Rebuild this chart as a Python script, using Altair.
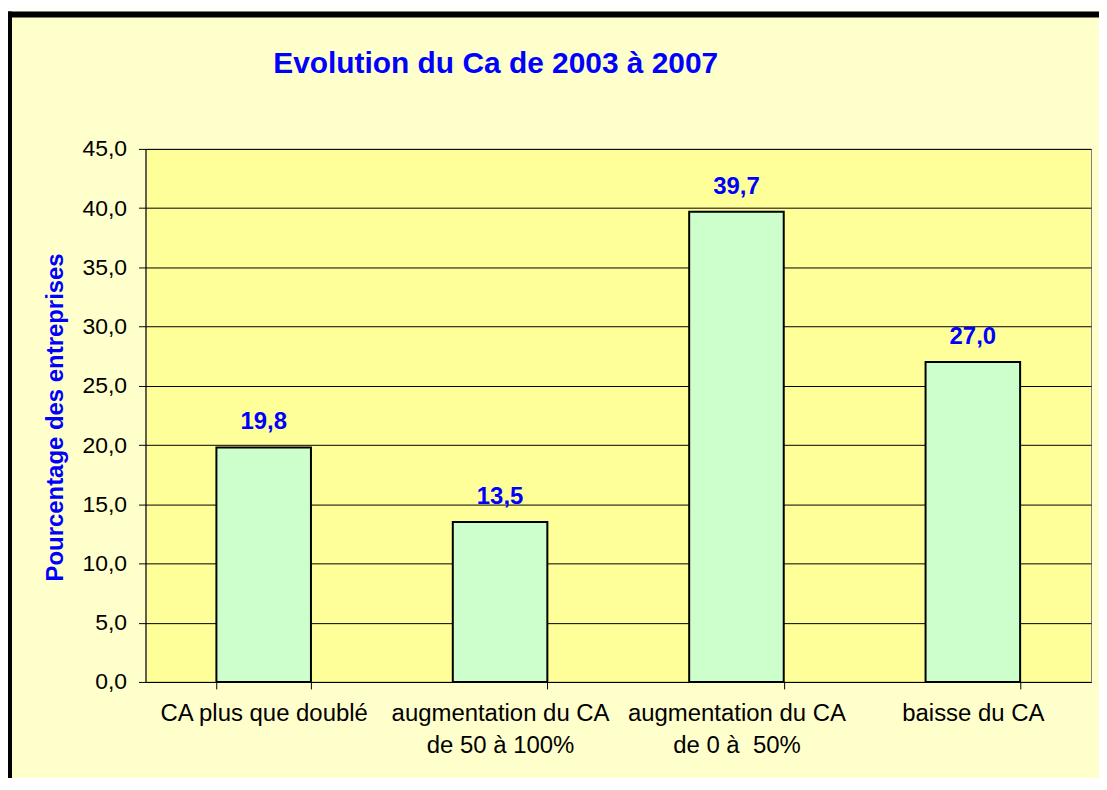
import altair as alt
import pandas as pd

categories = ["CA plus que doublé", "augmentation du CA\nde 50 à 100%", "augmentation du CA\nde 0 à\u00a0 50%", "baisse du CA"]
values = [19.8, 13.5, 39.7, 27.0]
y_ticks = [0, 5, 10, 15, 20, 25, 30, 35, 40, 45]
title_text = "Evolution du Ca de 2003 à 2007"
y_title = "Pourcentage des entreprises"

W, H = 949, 535
FONT = "Liberation Sans"
BLUE = "#0000FF"

df = pd.DataFrame({"cat": categories, "v": values})
one = pd.DataFrame({"k": [0]})

xenc = alt.X(
    "cat:N",
    sort=categories,
    title=None,
    scale=alt.Scale(paddingInner=0.6, paddingOuter=0.3),
    axis=alt.Axis(
        labelAngle=0,
        labelFont=FONT,
        labelFontSize=24,
        labelColor="#000000",
        labelLineHeight=32,
        labelPadding=13,
        labelLimit=0,
        labelExpr="split(datum.label, '\\n')",
        tickBand="extent",
        tickSize=7,
        tickColor="#000000",
        domainColor="#000000",
        domainWidth=1,
        grid=False,
        zindex=0,
    ),
)
yenc = alt.Y(
    "v:Q",
    title=None,
    scale=alt.Scale(domain=[0, 45], nice=False),
    axis=alt.Axis(
        values=y_ticks,
        labelExpr="replace(format(datum.value, '.1f'), '.', ',')",
        labelFont=FONT,
        labelFontSize=23,
        labelColor="#000000",
        labelPadding=12,
        tickSize=7,
        tickColor="#000000",
        domainColor="#000000",
        grid=True,
        gridColor="#000000",
        gridWidth=1,
        gridOpacity=1,
    ),
)

bars = alt.Chart(df).mark_bar(fill="#CCFFCC", stroke="#000000", strokeWidth=2).encode(x=xenc, y=yenc)

labels = alt.Chart(df).transform_calculate(
    lab="replace(format(datum.v, '.1f'), '.', ',')"
).mark_text(
    font=FONT, fontSize=24, fontWeight="bold", color=BLUE, dy=-18, baseline="alphabetic", align="center"
).encode(x=alt.X("cat:N", sort=categories), y=alt.Y("v:Q"), text="lab:N")

# frame pieces (top and left black border, white strip above)
white_top = alt.Chart(one).mark_rect(fill="#FFFFFF").encode(
    x=alt.value(-140), x2=alt.value(W + 20), y=alt.value(-141), y2=alt.value(-138)
)
frame_top = alt.Chart(one).mark_rect(fill="#000000").encode(
    x=alt.value(-140), x2=alt.value(W + 20), y=alt.value(-138), y2=alt.value(-132)
)
frame_left = alt.Chart(one).mark_rect(fill="#000000").encode(
    x=alt.value(-141), x2=alt.value(-134), y=alt.value(-138), y2=alt.value(H + 120)
)

title = alt.Chart(one).mark_text(
    font=FONT, fontSize=30, fontWeight="bold", color=BLUE, align="center", baseline="alphabetic"
).encode(x=alt.value(351.5), y=alt.value(-76.3), text=alt.value(title_text))

ytitle = alt.Chart(one).mark_text(
    font=FONT, fontSize=24, fontWeight="bold", color=BLUE, align="center", baseline="alphabetic", angle=270
).encode(x=alt.value(-82.7), y=alt.value(269.5), text=alt.value(y_title))

chart = alt.layer(white_top, frame_top, frame_left, bars, labels, title, ytitle).properties(
    width=W,
    height=H,
    background="#FFFFCC",
    padding={"left": 138, "top": 140, "right": 8, "bottom": 95},
    autosize=alt.AutoSizeParams(type="none"),
).configure_view(
    fill="#FFFF99", stroke="#808080", strokeWidth=1
)

chart.save("out.html", embed_options={"renderer": "svg", "actions": False})
